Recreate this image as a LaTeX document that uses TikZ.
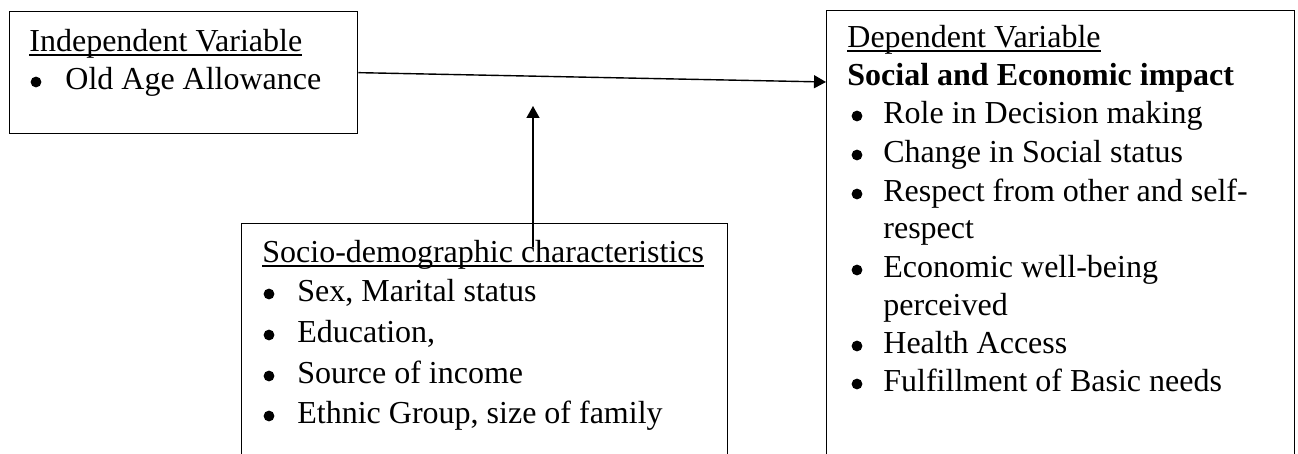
\documentclass[tikz,border=0pt]{standalone}
\usepackage{fontspec}
\setmainfont{Liberation Serif}
\usetikzlibrary{arrows.meta}
\newcommand\myul[1]{\setbox0\hbox{#1}\rlap{\rule[-1.9pt]{\wd0}{0.65pt}}\box0}
\tikzset{
  boxst/.style={draw=black, line width=0.65pt, rectangle, inner sep=0pt, anchor=north west},
  txt/.style={anchor=base west, inner sep=0pt, font=\fontsize{16}{19}\selectfont},
  bul/.style={circle, fill=black, inner sep=0pt, minimum size=5.4pt},
  conn/.style={line width=0.7pt, -{Triangle[length=6pt,width=6.5pt]}}
}
\begin{document}
\begin{tikzpicture}[x=0.5pt,y=-0.5pt]
\useasboundingbox (0,0) rectangle (1298,454);
% boxes
\node[boxst, minimum width=174pt, minimum height=61pt] (ind) at (9,11) {};
\node[boxst, minimum width=234pt, minimum height=235pt] (dep) at (826,10) {};
\node[boxst, minimum width=243pt, minimum height=130pt] (soc) at (241,223) {};
% independent
\node[txt] (t1) at (29,52) {\myul{Independent Variable}};
\node[bul] (b1) at (36,82) {};
\node[txt] (t2) at (65,90) {Old Age Allowance};
% dependent
\node[txt] (d0) at (847,48) {\myul{Dependent Variable}};
\node[txt] (d1) at (847,86) {\textbf{Social and Economic impact}};
\node[bul] (db1) at (857,116) {};
\node[txt] (d2) at (883,124) {Role in Decision making};
\node[bul] (db2) at (857,155) {};
\node[txt] (d3) at (883,163) {Change in Social status};
\node[bul] (db3) at (857,194) {};
\node[txt] (d4) at (883,202) {Respect from other and self-};
\node[txt] (d5) at (883,239) {respect};
\node[bul] (db4) at (857,270) {};
\node[txt] (d6) at (883,278) {Economic well-being};
\node[txt] (d7) at (883,316) {perceived};
\node[bul] (db5) at (857,346) {};
\node[txt] (d8) at (883,354) {Health Access};
\node[bul] (db6) at (857,384) {};
\node[txt] (d9) at (883,392) {Fulfillment of Basic needs};
% socio
\node[txt] (s0) at (262,263) {\myul{Socio-demographic characteristics}};
\node[bul] (sb1) at (269,294) {};
\node[txt] (s1) at (297,302) {Sex, Marital status};
\node[bul] (sb2) at (269,335) {};
\node[txt] (s2) at (297,343) {Education,};
\node[bul] (sb3) at (269,376) {};
\node[txt] (s3) at (297,384) {Source of income};
\node[bul] (sb4) at (269,416) {};
\node[txt] (s4) at (297,424) {Ethnic Group, size of family};
% connectors
\coordinate (depin) at (dep.north west |- 0,82);
\draw[conn] (ind.east) -- (depin);
\coordinate (vstart) at (533,247);
\coordinate (vend) at (533,106);
\draw[conn] (vstart) -- (vend);
\end{tikzpicture}
\end{document}
